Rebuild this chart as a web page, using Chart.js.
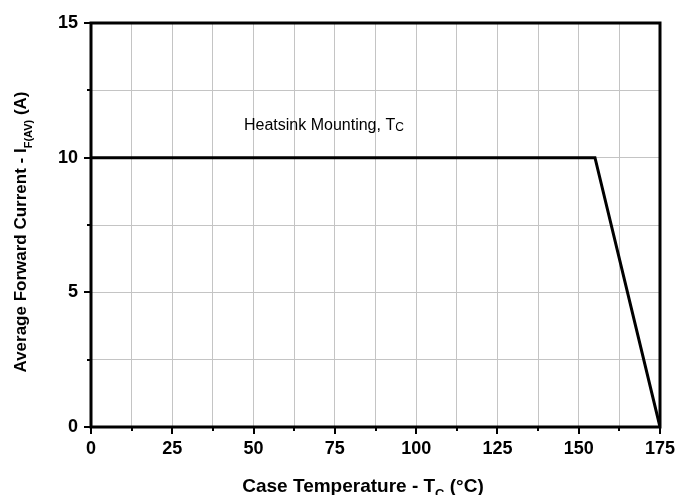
<!DOCTYPE html>
<html lang="en">
<head>
    <meta charset="UTF-8">
    <title>Average Forward Current vs Case Temperature</title>
    <style>
        html, body { margin: 0; padding: 0; background: #fff; }
        #wrap { width: 679px; height: 495px; position: relative; }
    </style>
    <script src="https://cdn.jsdelivr.net/npm/chart.js"></script>
</head>
<body>
    <div id="wrap"><canvas id="chart" width="679" height="495"></canvas></div>

    <script>
        // data
        const caseTemp = [0, 155, 175];
        const forwardCurrent = [10, 10, 0];

        const xTickLabels = [0, 25, 50, 75, 100, 125, 150, 175];
        const yTickLabels = [0, 5, 10, 15];

        const FONT = '"Liberation Sans", Arial, sans-serif';

        // draws text pieces in a row, some smaller and lowered (subscripts)
        function drawRuns(ctx, runs, x, y) {
            let cx = x;
            runs.forEach(r => {
                ctx.font = r.font;
                ctx.fillText(r.text, cx, y + (r.dy || 0));
                cx += ctx.measureText(r.text).width;
            });
        }
        function runsWidth(ctx, runs) {
            let w = 0;
            runs.forEach(r => { ctx.font = r.font; w += ctx.measureText(r.text).width; });
            return w;
        }

        const framePlugin = {
            id: 'frame',
            afterDraw(chart) {
                const ctx = chart.ctx;
                const a = chart.chartArea;
                const xs = chart.scales.x, ys = chart.scales.y;
                ctx.save();
                ctx.strokeStyle = '#000';
                ctx.lineCap = 'butt';

                // tick marks, major and minor
                ctx.lineWidth = 2;
                for (let v = 0; v <= 175; v += 12.5) {
                    const px = Math.round(xs.getPixelForValue(v));
                    const len = (v % 25 === 0) ? 7 : 4;
                    ctx.beginPath();
                    ctx.moveTo(px, a.bottom);
                    ctx.lineTo(px, a.bottom + len);
                    ctx.stroke();
                }
                for (let v = 0; v <= 15; v += 2.5) {
                    const py = Math.round(ys.getPixelForValue(v));
                    const len = (v % 5 === 0) ? 7 : 4;
                    ctx.beginPath();
                    ctx.moveTo(a.left, py);
                    ctx.lineTo(a.left - len, py);
                    ctx.stroke();
                }

                // box around the plot
                ctx.lineWidth = 3;
                ctx.strokeRect(a.left, a.top, a.right - a.left, a.bottom - a.top);

                ctx.fillStyle = '#000';
                ctx.textBaseline = 'alphabetic';

                // annotation
                const note = [
                    { text: 'Heatsink Mounting, T', font: '16px ' + FONT },
                    { text: 'C', font: '12px ' + FONT, dy: 1 }
                ];
                drawRuns(ctx, note, 244, 130);

                // x axis title
                const xTitle = [
                    { text: 'Case Temperature - T', font: 'bold 19px ' + FONT },
                    { text: 'C', font: 'bold 13px ' + FONT, dy: 6 },
                    { text: ' (°C)', font: 'bold 19px ' + FONT }
                ];
                const xw = runsWidth(ctx, xTitle);
                drawRuns(ctx, xTitle, 363 - xw / 2, 492);

                // y axis title, rotated
                const yTitle = [
                    { text: 'Average Forward Current - I', font: 'bold 17px ' + FONT },
                    { text: 'F(AV)', font: 'bold 11px ' + FONT, dy: 6 },
                    { text: ' (A)', font: 'bold 17px ' + FONT }
                ];
                const yw = runsWidth(ctx, yTitle);
                ctx.translate(26, 232);
                ctx.rotate(-Math.PI / 2);
                drawRuns(ctx, yTitle, -yw / 2, 0);

                ctx.restore();
            }
        };

        const ctx = document.getElementById('chart').getContext('2d');

        new Chart(ctx, {
            type: 'scatter',
            data: {
                datasets: [{
                    data: caseTemp.map((t, i) => ({ x: t, y: forwardCurrent[i] })),
                    showLine: true,
                    borderColor: '#000',
                    borderWidth: 3,
                    pointRadius: 0,
                    tension: 0,
                    fill: false
                }]
            },
            options: {
                responsive: false,
                animation: false,
                events: [],
                layout: { padding: { left: 0, top: 23, right: 19, bottom: 0 } },
                plugins: {
                    legend: { display: false },
                    tooltip: { enabled: false }
                },
                scales: {
                    x: {
                        type: 'linear',
                        min: 0,
                        max: 175,
                        afterFit(scale) {
                            scale.height = 68;
                            scale.paddingLeft = 0;
                            scale.paddingRight = 0;
                        },
                        afterBuildTicks(scale) {
                            const t = [];
                            for (let v = 0; v <= 175; v += 12.5) t.push({ value: v });
                            scale.ticks = t;
                        },
                        grid: { color: '#c4c4c4', lineWidth: 1, drawTicks: false },
                        border: { display: false },
                        ticks: {
                            padding: 11,
                            color: '#000',
                            maxRotation: 0,
                            autoSkip: false,
                            font: { family: FONT, size: 18, weight: 'bold' },
                            callback: v => xTickLabels.includes(v) ? String(v) : ''
                        }
                    },
                    y: {
                        type: 'linear',
                        min: 0,
                        max: 15,
                        afterFit(scale) {
                            scale.width = 91;
                            scale.paddingTop = 0;
                            scale.paddingBottom = 0;
                        },
                        afterBuildTicks(scale) {
                            const t = [];
                            for (let v = 0; v <= 15; v += 2.5) t.push({ value: v });
                            scale.ticks = t;
                        },
                        grid: { color: '#c4c4c4', lineWidth: 1, drawTicks: false },
                        border: { display: false },
                        ticks: {
                            padding: 13,
                            color: '#000',
                            autoSkip: false,
                            font: { family: FONT, size: 18, weight: 'bold' },
                            callback: v => yTickLabels.includes(v) ? String(v) : ''
                        }
                    }
                }
            },
            plugins: [framePlugin]
        });
    </script>
</body>
</html>
